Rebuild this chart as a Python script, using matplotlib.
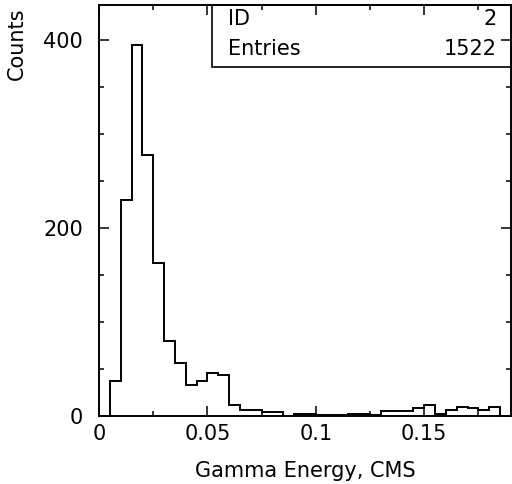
import numpy as np
import matplotlib
matplotlib.use("Agg")
import matplotlib.pyplot as plt
from matplotlib.patches import Rectangle
from matplotlib.ticker import MultipleLocator

# ==============================
#  DONNÉES
# ==============================
X_MIN, X_MAX = 0.0, 0.19
counts = [0, 37, 230, 394, 278, 163, 80, 56, 33, 37,
          46, 44, 12, 6, 6, 4, 4, 0, 2, 2,
          1, 1, 1, 2, 2, 1, 5, 5, 5, 8,
          12, 2, 6, 10, 8, 6, 10, 0]
HIST_ID = 2
ENTRIES = 1522
XLABEL = "Gamma Energy, CMS"
YLABEL = "Counts"

edges = np.linspace(X_MIN, X_MAX, len(counts) + 1)
FS = 15

# ==============================
#  FIGURE
# ==============================
plt.rcParams["font.family"] = ["DejaVu Sans"]
fig = plt.figure(figsize=(5.12, 4.84), dpi=100)
ax = fig.add_axes([99 / 512, 1 - 416 / 484, 412 / 512, 411 / 484])

ax.stairs(counts, edges, baseline=0, color="black", lw=1.4)
ax.set_xlim(X_MIN, X_MAX)
ax.set_ylim(0, 437)

ax.xaxis.set_major_locator(MultipleLocator(0.05))
ax.xaxis.set_minor_locator(MultipleLocator(0.025))
ax.yaxis.set_major_locator(MultipleLocator(200))
ax.yaxis.set_minor_locator(MultipleLocator(50))
ax.xaxis.set_major_formatter(plt.FuncFormatter(lambda v, _: f"{v:g}"))
ax.tick_params(which="both", direction="in", top=True, right=True,
               labelsize=FS, width=1.1)
ax.tick_params(axis="x", pad=6)
ax.tick_params(axis="y", pad=11.5)
ax.tick_params(which="major", length=7)
ax.tick_params(which="minor", length=3.5)
for s in ax.spines.values():
    s.set_linewidth(1.4)

ax.set_xlabel(XLABEL, fontsize=FS, labelpad=12)
fig.text(17 / 512, 1 - 8 / 484, YLABEL, rotation=90, fontsize=FS,
         ha="center", va="top")

# boîte de statistiques
bx0 = (212 - 99) / 412
by0 = (416 - 67) / 411
ax.add_patch(Rectangle((bx0, by0), 1 - bx0, 1 - by0, transform=ax.transAxes,
                       fill=False, lw=1.2, ec="black", zorder=5, clip_on=False))
lx = (228 - 99) / 412
rx = (497 - 99) / 412
for yc, lab, val in [((416 - 19) / 411, "ID", HIST_ID),
                     ((416 - 49) / 411, "Entries", ENTRIES)]:
    ax.text(lx, yc, lab, transform=ax.transAxes, fontsize=FS, ha="left", va="center")
    ax.text(rx, yc, str(val), transform=ax.transAxes, fontsize=FS, ha="right", va="center")

plt.savefig("out.png", dpi=100)
plt.close()
